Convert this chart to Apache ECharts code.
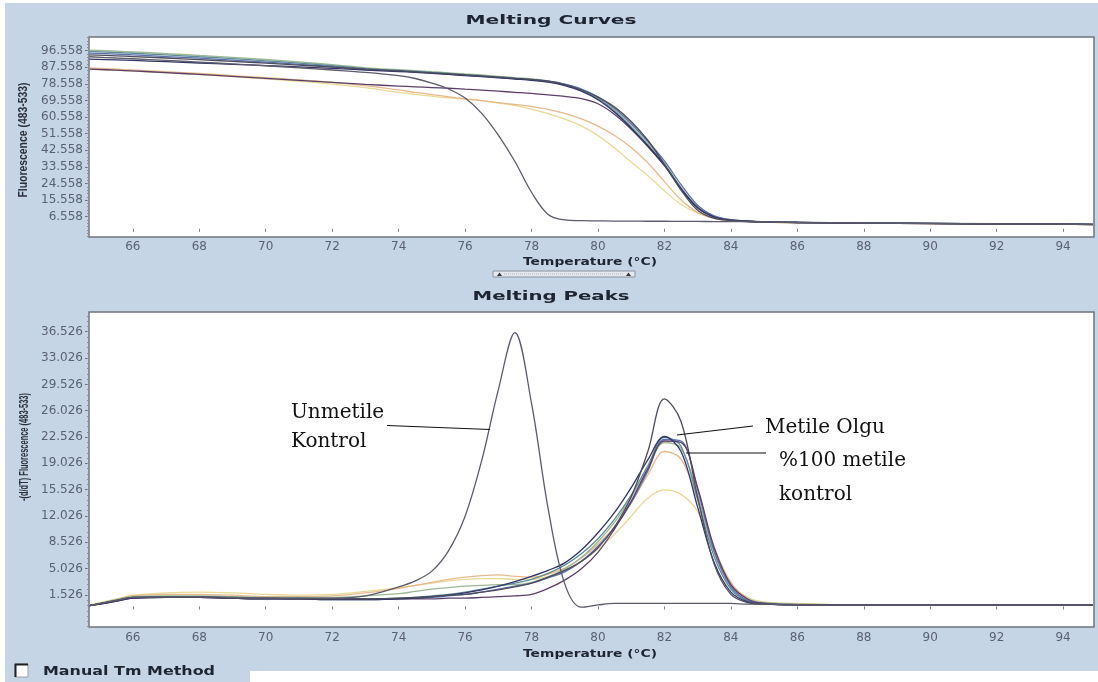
<!DOCTYPE html>
<html>
<head>
<meta charset="utf-8">
<script src="https://cdn.jsdelivr.net/npm/echarts@6/dist/echarts.min.js"></script>
<style>
html,body{margin:0;padding:0;background:#ffffff;}
#wrap{position:relative;width:1098px;height:682px;overflow:hidden;}
.bg{position:absolute;background:#c5d5e5;}
#chart{position:absolute;left:0;top:0;width:1098px;height:682px;}
</style>
</head>
<body>
<div id="wrap">
  <div class="bg" style="left:5px;top:3px;width:1093px;height:668px;"></div>
  <div class="bg" style="left:5px;top:671px;width:245px;height:11px;"></div>
  <div id="chart"></div>
</div>
<script>
// ---------- data ----------
const temps = [64.7, 65.5, 66, 67, 68, 69, 70, 71, 72, 73, 74, 74.5, 75, 75.5, 76, 76.5, 77, 77.5, 78, 78.5,
               79, 79.5, 80, 80.5, 81, 81.5, 82, 82.5, 83, 83.5, 84, 84.5, 85, 86, 88, 90, 92, 94, 94.9];

const xTicks = [66, 68, 70, 72, 74, 76, 78, 80, 82, 84, 86, 88, 90, 92, 94];
const yTicksCurves = [6.558, 15.558, 24.558, 33.558, 42.558, 51.558, 60.558, 69.558, 78.558, 87.558, 96.558];
const yTicksPeaks = [1.526, 5.026, 8.526, 12.026, 15.526, 19.026, 22.526, 26.026, 29.526, 33.026, 36.526];

const seriesNames = ['Yellow', 'Orange', 'Green', 'Teal', 'Blue', 'Purple', 'Navy', 'Metile Olgu', 'Unmetile Kontrol'];

// Melting curves: fluorescence (483-533)
const curveYellow  = [86.6, 86.0, 85.5, 84.6, 83.6, 82.5, 81.3, 80.0, 78.5, 76.5, 74.0, 72.9, 71.9, 71.0, 70.3, 69.5, 68.2, 66.8, 64.9, 62.4, 59.5, 55.8, 50.5, 43.8, 36.2, 28.8, 20.6, 13.2, 8.6, 5.9, 4.5, 3.9, 3.6, 3.3, 3.0, 2.8, 2.6, 2.4, 2.3];
const curveOrange  = [87.2, 86.6, 86.1, 85.2, 84.2, 83.1, 82.0, 80.8, 79.4, 77.6, 75.3, 74.0, 72.8, 71.6, 70.5, 69.5, 68.4, 67.4, 66.3, 64.8, 62.6, 59.6, 55.7, 50.6, 44.1, 35.8, 25.6, 15.6, 8.9, 5.6, 4.3, 3.9, 3.6, 3.3, 3.0, 2.8, 2.6, 2.4, 2.3];
const curveGreen   = [96.9, 96.3, 95.9, 95.0, 94.0, 93.0, 91.8, 90.5, 89.0, 87.3, 86.3, 85.8, 85.2, 84.6, 84.0, 83.4, 82.7, 82.0, 81.3, 80.2, 78.4, 75.6, 71.2, 64.5, 55.8, 46.3, 35.7, 22.5, 12.0, 6.8, 5.0, 4.3, 3.9, 3.6, 3.2, 3.0, 2.8, 2.6, 2.5];
const curveTeal    = [96.2, 95.6, 95.2, 94.3, 93.3, 92.3, 91.1, 89.8, 88.4, 86.9, 85.9, 85.4, 84.8, 84.2, 83.6, 83.0, 82.3, 81.6, 80.9, 79.8, 78.0, 75.0, 70.5, 63.8, 55.0, 45.3, 34.6, 21.8, 11.5, 6.5, 4.8, 4.1, 3.8, 3.5, 3.2, 2.9, 2.7, 2.5, 2.4];
const curveBlue    = [95.3, 94.7, 94.3, 93.4, 92.5, 91.5, 90.4, 89.2, 87.9, 86.5, 85.6, 85.1, 84.5, 83.9, 83.3, 82.7, 82.1, 81.5, 80.8, 80.0, 78.4, 75.8, 71.6, 65.3, 57.0, 47.5, 36.8, 24.0, 12.8, 7.0, 4.9, 4.1, 3.8, 3.5, 3.1, 2.9, 2.7, 2.5, 2.4];
const curvePurple  = [86.6, 86.0, 85.6, 84.7, 83.7, 82.7, 81.6, 80.5, 79.4, 78.3, 77.4, 77.0, 76.6, 76.2, 75.7, 75.2, 74.6, 74.0, 73.4, 72.6, 71.8, 70.6, 67.8, 62.0, 54.0, 44.6, 34.2, 21.6, 11.3, 6.4, 4.7, 4.1, 3.7, 3.4, 3.0, 2.8, 2.6, 2.4, 2.3];
const curveNavy    = [92.0, 91.6, 91.3, 90.6, 89.9, 89.2, 88.5, 87.8, 87.0, 86.1, 85.3, 84.8, 84.3, 83.7, 83.1, 82.5, 81.9, 81.2, 80.5, 79.5, 77.6, 74.6, 70.0, 63.2, 54.6, 45.1, 34.6, 21.8, 11.4, 6.4, 4.7, 4.1, 3.7, 3.4, 3.1, 2.9, 2.7, 2.5, 2.4];
const curveMetile  = [94.3, 93.8, 93.4, 92.6, 91.7, 90.8, 89.8, 88.8, 87.7, 86.5, 85.6, 85.1, 84.6, 84.0, 83.4, 82.8, 82.2, 81.6, 81.0, 80.0, 78.2, 75.4, 71.4, 66.0, 58.2, 48.0, 35.0, 21.0, 10.0, 5.6, 4.5, 4.0, 3.7, 3.4, 3.0, 2.8, 2.6, 2.4, 2.3];
const curveUnmetile= [93.3, 92.6, 92.2, 91.3, 90.4, 89.4, 88.4, 87.3, 86.1, 84.8, 83.0, 81.5, 79.0, 75.8, 70.9, 62.6, 50.8, 36.5, 19.8, 7.8, 4.8, 4.4, 4.3, 4.2, 4.2, 4.1, 4.1, 4.0, 4.0, 3.9, 3.9, 3.8, 3.7, 3.4, 3.1, 2.9, 2.7, 2.5, 2.4];

// Melting peaks: -(d/dT) fluorescence (483-533)
const peakYellow   = [0.2, 1.0, 1.5, 1.8, 1.9, 1.8, 1.6, 1.5, 1.6, 2.0, 2.5, 2.8, 3.1, 3.4, 3.6, 3.7, 3.7, 3.6, 3.6, 4.0, 4.8, 6.0, 7.6, 9.6, 12.0, 14.4, 15.5, 14.9, 12.6, 7.2, 3.0, 1.2, 0.6, 0.4, 0.2, 0.2, 0.2, 0.2, 0.2];
const peakOrange   = [0.1, 0.9, 1.4, 1.6, 1.6, 1.5, 1.3, 1.3, 1.4, 1.8, 2.4, 2.8, 3.2, 3.6, 3.9, 4.1, 4.2, 4.0, 3.9, 4.3, 5.1, 6.4, 8.3, 10.6, 13.8, 17.5, 20.6, 19.6, 14.2, 7.8, 3.2, 1.1, 0.5, 0.3, 0.2, 0.2, 0.2, 0.2, 0.2];
const peakGreen    = [0.1, 0.9, 1.3, 1.4, 1.4, 1.3, 1.2, 1.2, 1.2, 1.4, 1.7, 2.0, 2.3, 2.5, 2.7, 2.8, 2.9, 2.9, 3.2, 3.9, 5.0, 6.5, 8.6, 11.2, 14.5, 18.3, 21.8, 21.0, 14.8, 7.2, 2.8, 1.0, 0.5, 0.3, 0.2, 0.2, 0.2, 0.2, 0.2];
const peakTeal     = [0.1, 0.8, 1.2, 1.3, 1.3, 1.2, 1.1, 1.1, 1.0, 1.0, 1.1, 1.2, 1.4, 1.6, 1.9, 2.3, 2.7, 3.1, 3.6, 4.4, 5.5, 7.0, 9.0, 11.6, 14.8, 18.7, 22.5, 21.3, 14.2, 6.6, 2.3, 0.7, 0.4, 0.25, 0.2, 0.2, 0.2, 0.2, 0.2];
const peakBlue     = [0.1, 0.7, 1.1, 1.2, 1.2, 1.1, 1.0, 1.0, 0.9, 0.9, 1.0, 1.1, 1.2, 1.4, 1.6, 1.9, 2.3, 2.7, 3.1, 3.8, 4.6, 6.0, 8.0, 10.5, 13.8, 18.0, 22.2, 22.0, 15.5, 7.3, 2.6, 0.8, 0.4, 0.25, 0.2, 0.2, 0.2, 0.2, 0.2];
const peakPurple   = [0.1, 0.7, 1.1, 1.2, 1.2, 1.1, 1.1, 1.0, 1.0, 1.0, 1.0, 1.0, 1.0, 1.1, 1.1, 1.2, 1.3, 1.4, 1.6, 2.4, 3.5, 5.0, 7.2, 10.3, 14.0, 18.3, 22.0, 21.8, 15.8, 7.8, 2.9, 1.0, 0.4, 0.2, 0.2, 0.2, 0.2, 0.2, 0.2];
const peakNavy     = [0.1, 0.7, 1.1, 1.2, 1.2, 1.1, 1.0, 1.0, 0.9, 0.9, 1.0, 1.1, 1.3, 1.5, 1.8, 2.2, 2.7, 3.3, 4.0, 4.8, 5.8, 7.5, 9.8, 12.5, 15.8, 19.5, 22.6, 20.6, 13.2, 5.8, 1.9, 0.6, 0.3, 0.2, 0.2, 0.2, 0.2, 0.2, 0.2];
const peakMetile   = [0.1, 0.8, 1.2, 1.2, 1.2, 1.1, 1.0, 1.0, 1.0, 1.0, 1.1, 1.2, 1.3, 1.5, 1.6, 1.9, 2.2, 2.6, 3.1, 3.9, 4.8, 6.0, 7.8, 10.6, 14.6, 20.6, 27.6, 24.6, 14.5, 5.6, 1.6, 0.5, 0.3, 0.2, 0.2, 0.2, 0.2, 0.2, 0.2];
const peakUnmetile = [0.1, 0.8, 1.2, 1.3, 1.3, 1.2, 1.1, 1.1, 1.1, 1.4, 2.6, 3.4, 4.7, 7.4, 12.0, 19.4, 28.8, 36.4, 27.0, 13.0, 3.0, -0.1, 0.2, 0.4, 0.4, 0.4, 0.4, 0.4, 0.4, 0.4, 0.4, 0.3, 0.3, 0.2, 0.2, 0.2, 0.2, 0.2, 0.2];

// ---------- styling ----------
const seriesColors = ['#e8da98', '#e9b98e', '#9cb794', '#5d8d95', '#5c6fae', '#5b3f68', '#34346a', '#4c4c5a', '#5b5b6b'];
const curveSets = [curveYellow, curveOrange, curveGreen, curveTeal, curveBlue, curvePurple, curveNavy, curveMetile, curveUnmetile];
const peakSets  = [peakYellow, peakOrange, peakGreen, peakTeal, peakBlue, peakPurple, peakNavy, peakMetile, peakUnmetile];

// minor tick marks between the labelled ticks (5 steps per labelled interval)
function minorTicks(major, lo, hi) {
  const step = (major[1] - major[0]) / 5;
  const out = [];
  for (let v = major[0]; v > lo; v -= step) out.push(+v.toFixed(4));
  for (let v = major[0] + step; v < hi; v += step) out.push(+v.toFixed(4));
  return out;
}

const mc = document.createElement('canvas').getContext('2d');
function fitScale(text, font, target) { mc.font = font; return target / mc.measureText(text).width; }

const labelColor = '#5a6272';
const axisFont = 'DejaVu Sans';
const Y0 = [-4.45, 104], Y1 = [-2.73, 39.15];

function xAxisDef(gi, margin) {
  return {
    type: 'value', gridIndex: gi, min: 64.68, max: 94.93,
    axisLine: { show: false },
    splitLine: { show: false },
    axisTick: { show: true, inside: false, length: 3, customValues: xTicks, lineStyle: { color: '#7a808a' } },
    axisLabel: { customValues: xTicks, color: labelColor, fontSize: 12, fontFamily: axisFont, margin: margin }
  };
}
function yAxisDef(gi, rng, ticks) {
  return {
    type: 'value', gridIndex: gi, min: rng[0], max: rng[1],
    axisLine: { show: false },
    splitLine: { show: false },
    axisTick: { show: true, inside: false, length: 4, customValues: ticks, lineStyle: { color: '#6f757e' } },
    axisLabel: { customValues: ticks, color: labelColor, fontSize: 12, fontFamily: axisFont, margin: 6,
                 formatter: v => v.toFixed(3) }
  };
}
function yMinorDef(gi, rng, ticks) {
  return {
    type: 'value', gridIndex: gi, min: rng[0], max: rng[1], position: 'left',
    axisLine: { show: false }, splitLine: { show: false },
    axisLabel: { show: false },
    axisTick: { show: true, inside: false, length: 2, customValues: minorTicks(ticks, rng[0], rng[1]), lineStyle: { color: '#8a909a' } }
  };
}

const series = [];
seriesNames.forEach((name, k) => {
  series.push({
    name: name, type: 'line', xAxisIndex: 0, yAxisIndex: 0,
    data: temps.map((t, i) => [t, curveSets[k][i]]),
    showSymbol: false, smooth: 0.35, silent: true,
    lineStyle: { width: 1.3, color: seriesColors[k] }
  });
  series.push({
    name: name, type: 'line', xAxisIndex: 1, yAxisIndex: 1,
    data: temps.map((t, i) => [t, peakSets[k][i]]),
    showSymbol: false, smooth: 0.35, silent: true,
    lineStyle: { width: 1.3, color: seriesColors[k] }
  });
});

const titleFont = 'bold 13px "DejaVu Sans"';
const subFont = 'bold 11px "DejaVu Sans"';
const yTitleFont = 'bold 12px "Liberation Sans"';
const noteFont = '20px "DejaVu Serif"';
const manualFont = 'bold 13px "DejaVu Sans"';

function txt(text, x, y, font, target, align, fill, rot) {
  return {
    type: 'text', x: x, y: y, rotation: rot || 0, z: 50,
    scaleX: target ? fitScale(text, font, target) : 1,
    style: { text: text, font: font, fill: fill || '#1e2430', align: align || 'center', verticalAlign: 'middle' },
    silent: true
  };
}
function seg(x1, y1, x2, y2) {
  return { type: 'line', z: 50, silent: true, shape: { x1: x1, y1: y1, x2: x2, y2: y2 }, style: { stroke: '#111', lineWidth: 1.2 } };
}

const graphic = [
  txt('Melting Curves', 551, 21, titleFont, 171),
  txt('Melting Peaks', 551, 297, titleFont, 157),
  txt('Temperature (°C)', 590, 262, subFont, 134),
  txt('Temperature (°C)', 590, 654, subFont, 134),
  txt('Fluorescence (483-533)', 24, 140, yTitleFont, 115, 'center', '#2a2f3a', Math.PI / 2),
  txt('-(d/dT) Fluorescence (483-533)', 25, 447, yTitleFont, 108, 'center', '#2a2f3a', Math.PI / 2),
  txt('Manual Tm Method', 43, 672, manualFont, 172, 'left', '#1e2430'),
  // slider widget
  { type: 'rect', z: 50, silent: true, shape: { x: 493, y: 271, width: 142, height: 6 }, style: { fill: '#e6e8ef', stroke: '#8a90a0', lineWidth: 1 } },
  { type: 'line', z: 51, silent: true, shape: { x1: 504, y1: 274, x2: 624, y2: 274 }, style: { stroke: '#b0b4c4', lineWidth: 1, lineDash: [1, 1] } },
  { type: 'polygon', z: 51, silent: true, shape: { points: [[497, 276], [502, 276], [499.5, 272.5]] }, style: { fill: '#333' } },
  { type: 'polygon', z: 51, silent: true, shape: { points: [[626, 276], [631, 276], [628.5, 272.5]] }, style: { fill: '#333' } },
  // checkbox
  { type: 'rect', z: 50, silent: true, shape: { x: 15, y: 664, width: 13, height: 13 }, style: { fill: '#ffffff', stroke: '#9aa0aa', lineWidth: 1 } },
  { type: 'polyline', z: 51, silent: true, shape: { points: [[15.5, 677], [15.5, 664.5], [28, 664.5]] }, style: { stroke: '#222', lineWidth: 2, fill: null } },
  // annotations
  txt('Unmetile', 291, 413, noteFont, 0, 'left', '#111'),
  txt('Kontrol', 291, 442, noteFont, 0, 'left', '#111'),
  seg(387, 425.5, 490, 429.5),
  txt('Metile Olgu', 765, 428, noteFont, 0, 'left', '#111'),
  seg(677, 435, 753, 426),
  txt('%100 metile', 779, 461, noteFont, 0, 'left', '#111'),
  txt('kontrol', 779, 495, noteFont, 0, 'left', '#111'),
  seg(686, 453, 766, 453)
];

const chart = echarts.init(document.getElementById('chart'), null, { renderer: 'canvas' });
chart.setOption({
  backgroundColor: 'transparent',
  animation: false,
  grid: [
    { left: 89, top: 37, width: 1005, height: 200, show: true, backgroundColor: '#ffffff', borderColor: '#6f757e', borderWidth: 1.5 },
    { left: 89, top: 312, width: 1005, height: 315, show: true, backgroundColor: '#ffffff', borderColor: '#6f757e', borderWidth: 1.5 }
  ],
  xAxis: [xAxisDef(0, 4), xAxisDef(1, 5)],
  yAxis: [yAxisDef(0, Y0, yTicksCurves), yAxisDef(1, Y1, yTicksPeaks),
          yMinorDef(0, Y0, yTicksCurves), yMinorDef(1, Y1, yTicksPeaks)],
  series: series,
  graphic: graphic
});
</script>
</body>
</html>
